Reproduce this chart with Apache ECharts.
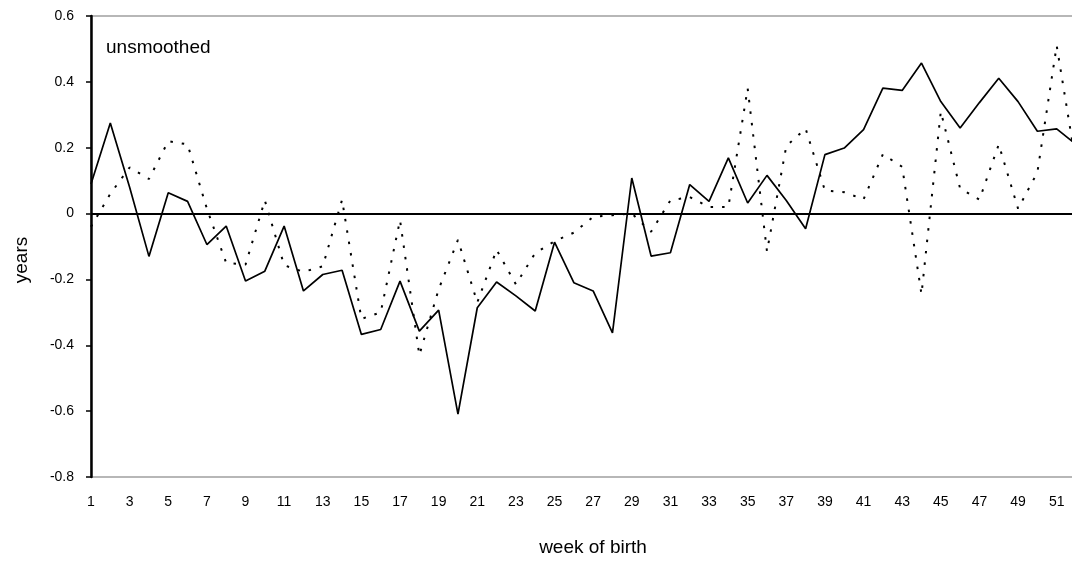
<!DOCTYPE html>
<html>
<head>
<meta charset="utf-8">
<script src="https://cdn.jsdelivr.net/npm/echarts@6/dist/echarts.min.js"></script>
<style>
html,body{margin:0;padding:0;background:#fff;overflow:hidden;width:1072px;height:565px;}
#c{width:1080px;height:565px;}
</style>
</head>
<body>
<div id="c"></div>
<script>
// ---- data ----
const weeks = Array.from({length: 52}, (_, i) => String(i + 1));
const solidValues = [
  0.09, 0.275, 0.08, -0.13, 0.063, 0.037, -0.094, -0.038, -0.205, -0.175,
  -0.038, -0.235, -0.185, -0.172, -0.367, -0.352, -0.205, -0.357, -0.293, -0.609,
  -0.286, -0.208, -0.25, -0.296, -0.087, -0.21, -0.235, -0.362, 0.108, -0.129,
  -0.119, 0.088, 0.037, 0.169, 0.032, 0.116, 0.04, -0.046, 0.179, 0.199,
  0.255, 0.381, 0.374, 0.457, 0.34, 0.26, 0.337, 0.411, 0.34, 0.25,
  0.257, 0.21
];
const dottedValues = [
  -0.04, 0.06, 0.14, 0.105, 0.22, 0.21, 0.015, -0.15, -0.155, 0.04,
  -0.157, -0.177, -0.16, 0.042, -0.32, -0.30, -0.02, -0.43, -0.23, -0.08,
  -0.27, -0.11, -0.215, -0.12, -0.084, -0.058, -0.01, -0.005, 0.0, -0.055,
  0.04, 0.05, 0.02, 0.02, 0.38, -0.115, 0.205, 0.258, 0.07, 0.065,
  0.043, 0.18, 0.142, -0.245, 0.31, 0.076, 0.042, 0.21, 0.015, 0.125,
  0.51, 0.15
];
const yMin = -0.8, yMax = 0.6, yStep = 0.2;
const xTitle = 'week of birth';
const yTitle = 'years';
const panelLabel = 'unsmoothed';

const chart = echarts.init(document.getElementById('c'), null, {renderer: 'canvas'});
const FONT = 'Liberation Sans, Arial, sans-serif';
chart.setOption({
  animation: false,
  backgroundColor: '#fff',
  grid: {left: 91, right: 4, top: 16, bottom: 88, show: true, borderColor: '#a0a0a0', borderWidth: 1.5, backgroundColor: 'transparent'},
  xAxis: {
    type: 'category', data: weeks, boundaryGap: false,
    axisLine: {show: true, lineStyle: {color: '#a0a0a0', width: 1.5}},
    axisTick: {show: false},
    axisLabel: {interval: 1, color: '#000', fontFamily: FONT, fontSize: 14, margin: 18},
    splitLine: {show: false}
  },
  yAxis: {
    type: 'value', min: yMin, max: yMax, interval: yStep,
    axisLine: {show: true, lineStyle: {color: '#000', width: 2.5}},
    axisTick: {show: true, inside: false, length: 5, lineStyle: {color: '#000', width: 1.5}},
    axisLabel: {color: '#000', fontFamily: FONT, fontSize: 14, margin: 17,
      formatter: v => { const r = Math.round(v * 10) / 10; return r === 0 ? '0' : String(r); }},
    splitLine: {show: false}
  },
  graphic: [
    {type: 'text', left: 106, top: 38, style: {text: panelLabel, font: '19px ' + FONT, fill: '#000'}},
    {type: 'text', x: 22, y: 260, rotation: Math.PI / 2, style: {text: yTitle, font: '19px ' + FONT, fill: '#000', align: 'center', verticalAlign: 'middle'}},
    {type: 'text', x: 593, y: 548, style: {text: xTitle, font: '19px ' + FONT, fill: '#000', align: 'center', verticalAlign: 'middle'}}
  ],
  series: [
    {
      type: 'line', data: dottedValues, symbol: 'none', silent: true,
      lineStyle: {color: '#000', width: 2, type: [2.5, 9], cap: 'butt'},
      markLine: {silent: true, symbol: 'none', label: {show: false},
        lineStyle: {color: '#000', width: 2, type: 'solid'}, data: [{yAxis: 0}]}
    },
    {
      type: 'line', data: solidValues, symbol: 'none', silent: true,
      lineStyle: {color: '#000', width: 1.7, type: 'solid'}
    }
  ]
});
</script>
</body>
</html>
